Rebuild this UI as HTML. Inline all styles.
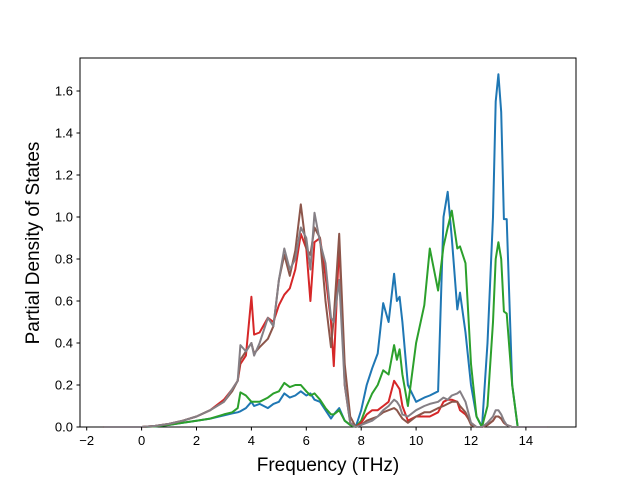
<!DOCTYPE html>
<html><head><meta charset="utf-8"><style>body{margin:0;background:#fff}svg{display:block}text{font-family:"Liberation Sans","DejaVu Sans",sans-serif}</style></head>
<body>
<svg id="chart" width="640" height="480">
<rect x="80" y="58" width="496" height="369" fill="none" stroke="#000" stroke-width="1"/>
<g id="series"></g>
<g id="axes"></g>
<text x="328" y="471" text-anchor="middle" font-size="19">Frequency (THz)</text>
<text transform="translate(39,243) rotate(-90)" text-anchor="middle" font-size="19">Partial Density of States</text>
</svg>
<script>
const freqs = [-1.4,0,0.5,1,1.5,2,2.5,3,3.3,3.5,3.6,3.8,4.0,4.1,4.3,4.6,4.8,5.0,5.2,5.4,5.6,5.8,6.0,6.15,6.3,6.5,6.7,6.9,7.0,7.2,7.4,7.6,7.8,8.0,8.2,8.4,8.6,8.8,9.0,9.2,9.3,9.4,9.5,9.7,10.0,10.3,10.5,10.8,11.0,11.15,11.3,11.5,11.6,11.8,12.0,12.2,12.4,12.6,12.8,12.9,13.0,13.1,13.2,13.3,13.5,13.7,14.0,14.8];
const blueVals = [0,0,0.003,0.01,0.02,0.03,0.04,0.055,0.065,0.07,0.075,0.09,0.12,0.10,0.11,0.09,0.11,0.12,0.16,0.14,0.15,0.17,0.15,0.16,0.13,0.12,0.08,0.04,0.06,0.09,0.03,0.01,0,0.08,0.2,0.28,0.35,0.59,0.5,0.73,0.6,0.62,0.5,0.2,0.12,0.14,0.15,0.17,1.0,1.12,0.9,0.56,0.64,0.45,0.2,0.05,0,0.4,1.0,1.55,1.68,1.5,0.99,0.99,0.2,0,0,0];
const greenVals = [0,0,0.003,0.01,0.02,0.03,0.04,0.06,0.07,0.09,0.165,0.15,0.12,0.12,0.12,0.14,0.16,0.17,0.21,0.19,0.2,0.2,0.17,0.15,0.16,0.13,0.09,0.06,0.06,0.08,0.03,0.01,0,0.03,0.1,0.16,0.2,0.27,0.25,0.39,0.32,0.37,0.25,0.1,0.4,0.58,0.85,0.65,0.86,0.95,1.03,0.85,0.86,0.78,0.3,0.05,0,0.1,0.5,0.8,0.88,0.8,0.55,0.54,0.2,0,0,0];
const redVals = [0,0,0.005,0.015,0.03,0.05,0.08,0.13,0.18,0.22,0.3,0.34,0.62,0.44,0.45,0.52,0.5,0.58,0.63,0.66,0.75,0.92,0.85,0.6,0.88,0.9,0.72,0.5,0.29,0.88,0.2,0.02,0,0.02,0.06,0.08,0.08,0.1,0.12,0.22,0.2,0.18,0.1,0.03,0.05,0.05,0.05,0.07,0.12,0.13,0.13,0.12,0.08,0.06,0.02,0,0,0.01,0.03,0.05,0.05,0.04,0.02,0.01,0,0,0,0];
const brownVals = [0,0,0.005,0.015,0.03,0.05,0.08,0.12,0.17,0.22,0.32,0.36,0.40,0.35,0.38,0.42,0.48,0.70,0.82,0.72,0.84,1.06,0.85,0.82,0.95,0.9,0.6,0.38,0.52,0.92,0.3,0.05,0,0.01,0.03,0.04,0.05,0.07,0.08,0.09,0.08,0.06,0.04,0.02,0.05,0.07,0.07,0.09,0.1,0.11,0.12,0.12,0.1,0.07,0.01,0,0,0.01,0.03,0.05,0.05,0.04,0.02,0.01,0,0,0,0];
const grayVals = [0,0,0.005,0.015,0.03,0.05,0.08,0.12,0.18,0.22,0.39,0.36,0.40,0.34,0.40,0.52,0.48,0.70,0.85,0.75,0.8,0.95,0.9,0.75,1.02,0.88,0.78,0.52,0.5,0.7,0.2,0.02,0,0.01,0.02,0.03,0.05,0.08,0.1,0.13,0.12,0.1,0.06,0.05,0.08,0.1,0.11,0.12,0.14,0.13,0.15,0.16,0.17,0.12,0.02,0,0,0.02,0.05,0.08,0.08,0.06,0.03,0.01,0,0,0,0];
const xTicks = [-2,0,2,4,6,8,10,12,14];
const yTicks = [0,0.2,0.4,0.6,0.8,1.0,1.2,1.4,1.6];

const NS = "http://www.w3.org/2000/svg";
function xs(f){ return 141.6 + 27.45*f; }
function ys(v){ return 427 - 210*v; }
const sg = document.getElementById('series');
const seriesList = [["blue",blueVals,"#1f77b4"],["green",greenVals,"#2ca02c"],["red",redVals,"#d62728"],["brown",brownVals,"#8c564b"],["gray",grayVals,"#857f85"]];
seriesList.forEach(s=>{
  const p = document.createElementNS(NS,'path');
  let d = '';
  freqs.forEach((f,i)=>{ d += (i?'L':'M') + xs(f).toFixed(1) + ',' + ys(s[1][i]).toFixed(1); });
  p.setAttribute('d', d);
  p.setAttribute('fill','none');
  p.setAttribute('stroke', s[2]);
  p.setAttribute('stroke-width','2');
  p.setAttribute('stroke-linejoin','round');
  
  
  sg.appendChild(p);
});
const ag = document.getElementById('axes');
xTicks.forEach(t=>{
  const l = document.createElementNS(NS,'line');
  l.setAttribute('x1',xs(t)); l.setAttribute('x2',xs(t)); l.setAttribute('y1',427); l.setAttribute('y2',430.5);
  l.setAttribute('stroke','#000');
  
  
  ag.appendChild(l);
  const tx = document.createElementNS(NS,'text');
  tx.setAttribute('x',xs(t)); tx.setAttribute('y',445); tx.setAttribute('text-anchor','middle'); tx.setAttribute('font-size','13');
  tx.textContent = t < 0 ? '\u2212' + Math.abs(t) : String(t);
  
  
  ag.appendChild(tx);
});
yTicks.forEach(t=>{
  const l = document.createElementNS(NS,'line');
  l.setAttribute('x1',76.5); l.setAttribute('x2',80); l.setAttribute('y1',ys(t)); l.setAttribute('y2',ys(t));
  l.setAttribute('stroke','#000');
  
  
  ag.appendChild(l);
  const tx = document.createElementNS(NS,'text');
  tx.setAttribute('x',73); tx.setAttribute('y',ys(t)+4.5); tx.setAttribute('text-anchor','end'); tx.setAttribute('font-size','13');
  tx.textContent = t.toFixed(1);
  
  
  ag.appendChild(tx);
});
</script>
</body></html>
